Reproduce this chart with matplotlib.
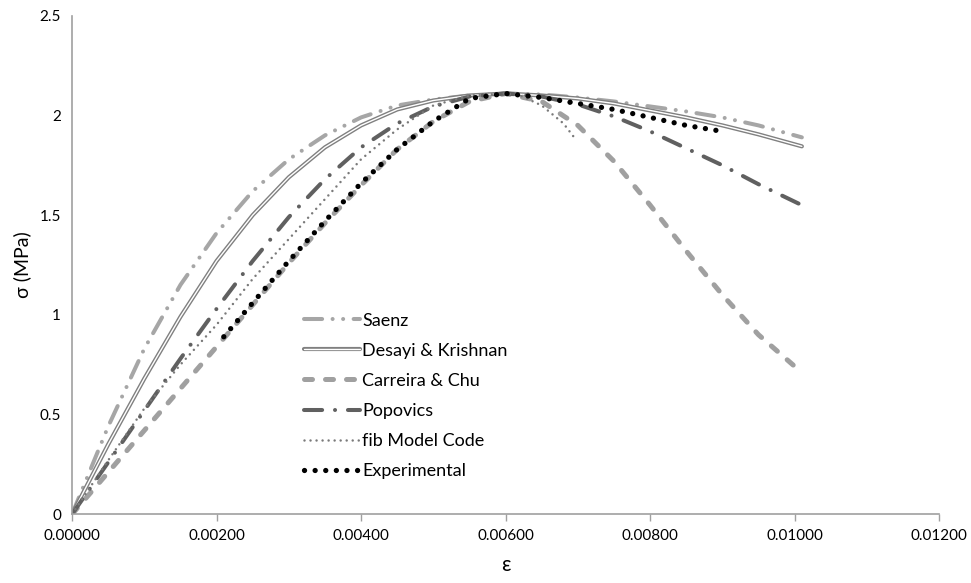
import matplotlib
matplotlib.use('Agg')
import matplotlib.pyplot as plt

plt.rcParams['font.family'] = ['Lato', 'DejaVu Sans']

# strain grid used for the model curves
eps = [0, 0.0005, 0.001, 0.0015, 0.002, 0.0025, 0.003, 0.0035, 0.004, 0.0045, 0.005,
       0.0055, 0.006, 0.0065, 0.007, 0.0075, 0.008, 0.0085, 0.009, 0.0095, 0.0101]

saenz = [0, 0.44, 0.83, 1.15, 1.41, 1.62, 1.78, 1.90, 1.99, 2.05, 2.08,
         2.10, 2.11, 2.105, 2.09, 2.07, 2.045, 2.02, 1.99, 1.95, 1.89]
desayi = [0, 0.35, 0.68, 0.99, 1.27, 1.50, 1.69, 1.84, 1.95, 2.03, 2.075,
          2.10, 2.11, 2.10, 2.085, 2.06, 2.025, 1.99, 1.95, 1.905, 1.845]
carreira = [0, 0.21, 0.42, 0.63, 0.84, 1.05, 1.26, 1.46, 1.65, 1.83, 1.97,
            2.07, 2.11, 2.07, 1.95, 1.77, 1.55, 1.32, 1.10, 0.90, 0.71]
popovics = [0, 0.26, 0.52, 0.78, 1.03, 1.27, 1.49, 1.68, 1.84, 1.96, 2.045,
            2.095, 2.11, 2.095, 2.055, 1.995, 1.92, 1.835, 1.75, 1.655, 1.55]

eps_fib = [0, 0.0005, 0.001, 0.0015, 0.002, 0.0025, 0.003, 0.0035, 0.004, 0.0045,
           0.005, 0.0055, 0.006, 0.0062, 0.0065, 0.0068, 0.00697]
fib = [0, 0.27, 0.53, 0.75, 0.95, 1.18, 1.38, 1.58, 1.78, 1.93,
       2.05, 2.10, 2.11, 2.10, 2.05, 1.96, 1.88]

eps_exp = [0.0021, 0.0025, 0.003, 0.0035, 0.004, 0.0045, 0.005, 0.0055, 0.006,
           0.0065, 0.007, 0.0075, 0.008, 0.0085, 0.009]
experimental = [0.89, 1.06, 1.27, 1.47, 1.66, 1.83, 1.97, 2.085, 2.11,
                2.09, 2.06, 2.03, 1.99, 1.95, 1.92]

fig = plt.figure(figsize=(9.71, 5.83), dpi=100)
ax = fig.add_axes([0.0742, 0.118, 0.893, 0.855])

l1, = ax.plot(eps, saenz, color='#a6a6a6', lw=2.9, dashes=(4.5, 2.6, 0.01, 2.6, 0.01, 2.6),
              dash_capstyle='round')
d_out, = ax.plot(eps, desayi, color='#808080', lw=3.0, solid_capstyle='round')
d_in, = ax.plot(eps, desayi, color='white', lw=1.0, solid_capstyle='round')
l3, = ax.plot(eps, carreira, color='#a0a0a0', lw=3.6, dashes=(1.6, 2.6), dash_capstyle='round')
l4, = ax.plot(eps, popovics, color='#606060', lw=2.9, dashes=(4.5, 3.2, 0.01, 3.2),
              dash_capstyle='round')
l5, = ax.plot(eps_fib, fib, color='#7a7a7a', lw=1.8, dashes=(0.01, 2.4), dash_capstyle='round')
l6, = ax.plot(eps_exp, experimental, color='black', lw=3.8, dashes=(0.01, 2.0),
              dash_capstyle='round')

ax.set_xlim(0, 0.012)
ax.set_ylim(0, 2.5)
ax.set_xticks([0, 0.002, 0.004, 0.006, 0.008, 0.010, 0.012])
ax.set_xticklabels(['0.00000', '0.00200', '0.00400', '0.00600', '0.00800', '0.01000', '0.01200'])
ax.set_yticks([0, 0.5, 1, 1.5, 2, 2.5])
ax.set_yticklabels(['0', '0.5', '1', '1.5', '2', '2.5'])
ax.tick_params(axis='both', labelsize=11, color='#a0a0a0', length=5, width=1)
ax.tick_params(axis='x', pad=6)
ax.tick_params(axis='y', length=0, pad=8)

for s in ['top', 'right']:
    ax.spines[s].set_visible(False)
for s in ['left', 'bottom']:
    ax.spines[s].set_color('#a0a0a0')
    ax.spines[s].set_linewidth(1.2)

ax.set_xlabel('ε', fontsize=15, labelpad=8)
ax.set_ylabel('σ (MPa)', fontsize=14, labelpad=6)

ax.legend([l1, (d_out, d_in), l3, l4, l5, l6],
          ['Saenz', 'Desayi & Krishnan', 'Carreira & Chu', 'Popovics', 'fib Model Code',
           'Experimental'],
          loc='upper left', bbox_to_anchor=(0.249, 0.437), frameon=False, fontsize=13,
          handlelength=3.1, handletextpad=0.1, labelspacing=0.78)

fig.savefig('out.png', dpi=100)
